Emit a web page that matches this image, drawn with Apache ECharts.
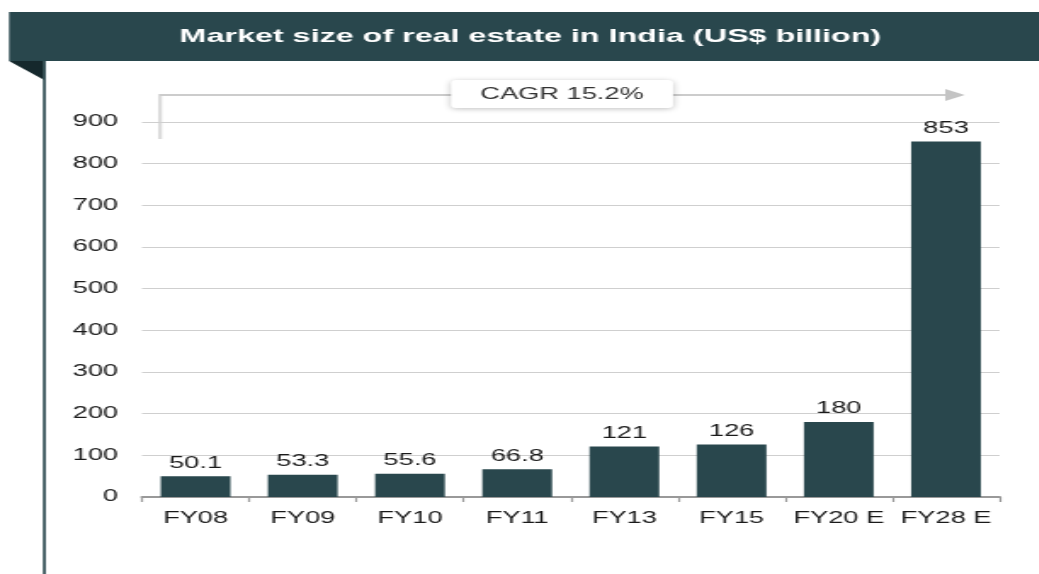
<!DOCTYPE html>
<html>
<head>
<meta charset="utf-8">
<script src="https://cdn.jsdelivr.net/npm/echarts@6/dist/echarts.min.js"></script>
<style>
  html, body { margin: 0; padding: 0; background: #fff; overflow: hidden; }
  /* the reference is a horizontally stretched picture, so the chart is drawn
     narrow and stretched the same way */
  #chart { width: 611px; height: 574px; transform: scaleX(1.7); transform-origin: 0 0; }
</style>
</head>
<body>
<div id="chart"></div>
<script>
"use strict";

// data
var years = ["FY08", "FY09", "FY10", "FY11", "FY13", "FY15", "FY20 E", "FY28 E"];
var marketSize = [50.1, 53.3, 55.6, 66.8, 121, 126, 180, 853];
var titleText = "Market size of real estate in India (US$ billion)";
var cagrText = "CAGR 15.2%";

var dark = "#29474d";
var font = "Liberation Sans, Arial, sans-serif";

var myChart = echarts.init(document.getElementById("chart"));

var option = {
  animation: false,
  grid: { left: 83.5, right: 23, top: 122, bottom: 77 },
  xAxis: {
    type: "category",
    data: years,
    axisLine: { lineStyle: { color: "#999", width: 2 } },
    axisTick: { show: true, length: 5, lineStyle: { color: "#999", width: 1.2 } },
    axisLabel: { interval: 0, color: "#1a1a1a", fontSize: 16, fontFamily: font, margin: 14 }
  },
  yAxis: {
    type: "value",
    min: 0,
    max: 900,
    interval: 100,
    axisLine: { show: false },
    axisTick: { show: false },
    splitLine: { lineStyle: { color: "#cfcfcf", width: 1 } },
    axisLabel: { color: "#1a1a1a", fontSize: 16, fontFamily: font, margin: 14 }
  },
  series: [
    {
      type: "bar",
      data: marketSize,
      barWidth: 41,
      itemStyle: { color: dark },
      label: {
        show: true,
        position: "top",
        distance: 5,
        color: "#1a1a1a",
        fontSize: 16,
        fontFamily: font
      }
    }
  ],
  graphic: [
    // title banner
    { type: "rect", shape: { x: 5.3, y: 12, width: 610, height: 49 }, style: { fill: dark } },
    { type: "polygon", shape: { points: [[5.3, 61], [26, 61], [26, 80]] }, style: { fill: "#15282c" } },
    { type: "rect", shape: { x: 25.2, y: 61, width: 1.8, height: 513 }, style: { fill: "#3a555b" } },
    {
      type: "text", x: 312, y: 37,
      style: {
        text: titleText, fill: "#fff", font: "bold 19px " + font,
        align: "center", verticalAlign: "middle"
      }
    },
    // CAGR bracket
    { type: "rect", shape: { x: 93, y: 94, width: 2.3, height: 45 }, style: { fill: "#dcdcdc" } },
    { type: "rect", shape: { x: 94, y: 94, width: 465, height: 2 }, style: { fill: "#cccccc" } },
    { type: "polygon", shape: { points: [[556, 89], [567.5, 95], [556, 101]] }, style: { fill: "#c4c4c4" } },
    {
      type: "rect",
      shape: { x: 265.3, y: 80, width: 130.6, height: 28, r: 3 },
      style: { fill: "#fff", shadowBlur: 5, shadowColor: "rgba(0,0,0,0.25)", shadowOffsetY: 1 }
    },
    {
      type: "text", x: 330.6, y: 95,
      style: {
        text: cagrText, fill: "#333", font: "16px " + font,
        align: "center", verticalAlign: "middle"
      }
    }
  ]
};

option && myChart.setOption(option);
</script>
</body>
</html>
